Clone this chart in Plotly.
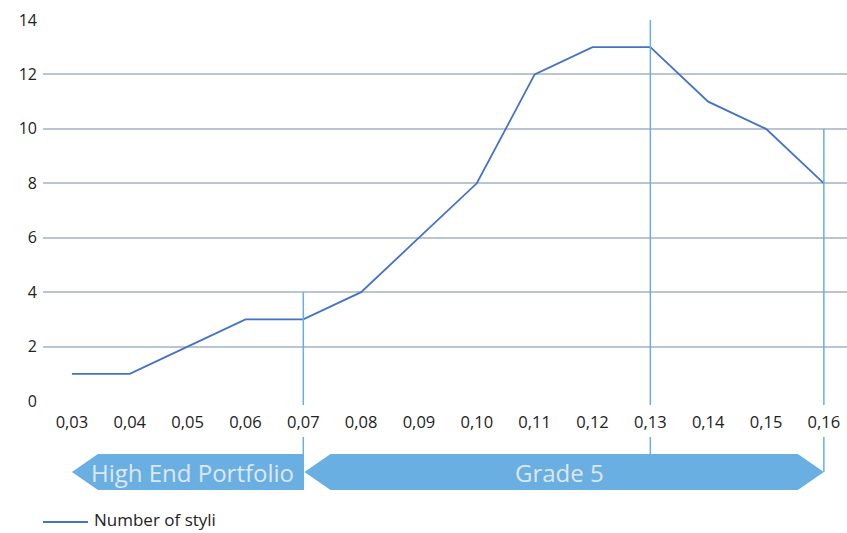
import plotly.graph_objects as go

# Contact radius (mm) and number of styli per radius
radius = [0.03, 0.04, 0.05, 0.06, 0.07, 0.08, 0.09, 0.10, 0.11, 0.12, 0.13, 0.14, 0.15, 0.16]
styli = [1, 1, 2, 3, 3, 4, 6, 8, 12, 13, 13, 11, 10, 8]
series_name = "Number of styli"

# Range markers: (radius, height of the marker line in data units)
markers_x = [0.07, 0.13, 0.16]
markers_top = [4, 14, 10]

# Product bands drawn as arrows under the axis
band_labels = ["High End Portfolio", "Grade 5"]
band_start = [0.03, 0.07]
band_end = [0.07, 0.16]

Y_MAX = 14
X_RANGE = [0.025, 0.164]
PLOT_TOP, PLOT_BOTTOM, W, H = 20, 401, 847, 533
PLOT_LEFT = 43
PLOT_H = PLOT_BOTTOM - PLOT_TOP


def paper_y(px):
    """Convert a pixel row into a paper fraction of the plot area."""
    return (PLOT_BOTTOM - px) / PLOT_H


def paper_x(px):
    return (px - PLOT_LEFT) / (W - PLOT_LEFT)


line_col = "#4472c4"
marker_col = "#6aaee2"
band_col = "#6aafe1"
band_text = "#dde7f2"

fig = go.Figure()
fig.add_trace(go.Scatter(
    x=radius, y=styli, mode="lines", name=series_name, showlegend=False,
    line=dict(color=line_col, width=1.8),
))

shapes = []
# marker lines, interrupted where the tick labels sit
for mx, top in zip(markers_x, markers_top):
    shapes.append(dict(type="line", xref="x", yref="paper", x0=mx, x1=mx,
                       y0=top / Y_MAX, y1=paper_y(405),
                       line=dict(color=marker_col, width=1.5)))
# lower parts of marker lines down to the bands
lower_ends = {0.07: 490, 0.13: 455, 0.16: 472}
for mx in markers_x:
    shapes.append(dict(type="line", xref="x", yref="paper", x0=mx, x1=mx,
                       y0=paper_y(437), y1=paper_y(lower_ends[mx]),
                       line=dict(color=marker_col, width=1.5)))

top_y, mid_y, bot_y = paper_y(454), paper_y(472), paper_y(490)
head = 0.0045  # arrow head length in radius units

# High End Portfolio: left-pointing arrow
s, e = band_start[0], band_end[0]
shapes.append(dict(
    type="path", xref="x", yref="paper", layer="below",
    path=f"M {s} {mid_y} L {s + head} {top_y} L {e} {top_y} L {e} {bot_y} L {s + head} {bot_y} Z",
    fillcolor=band_col, line=dict(width=0)))
# Grade 5: double-headed arrow
s, e = band_start[1] + 0.0002, band_end[1]
shapes.append(dict(
    type="path", xref="x", yref="paper", layer="below",
    path=(f"M {s} {mid_y} L {s + head} {top_y} L {e - head} {top_y} L {e} {mid_y} "
          f"L {e - head} {bot_y} L {s + head} {bot_y} Z"),
    fillcolor=band_col, line=dict(width=0)))

# legend entry: short line sample with the series name
legend_y = paper_y(522)
shapes.append(dict(type="line", xref="paper", yref="paper",
                   x0=paper_x(43), x1=paper_x(88), y0=legend_y, y1=legend_y,
                   line=dict(color=line_col, width=1.8)))

annotations = [
    dict(x=0.0508, y=mid_y, xref="x", yref="paper", text=band_labels[0],
         showarrow=False, xanchor="center", yanchor="middle",
         font=dict(size=24, color=band_text, family="Open Sans")),
    dict(x=0.1143, y=mid_y, xref="x", yref="paper",
         text=band_labels[1], showarrow=False, xanchor="center", yanchor="middle",
         font=dict(size=24, color=band_text, family="Open Sans")),
    dict(x=paper_x(92), y=paper_y(519), xref="paper", yref="paper", text=series_name,
         showarrow=False, xanchor="left", yanchor="middle",
         font=dict(size=17, color="#222222", family="Open Sans")),
]

fig.update_layout(
    width=W, height=H,
    margin=dict(l=PLOT_LEFT, r=0, t=PLOT_TOP, b=H - PLOT_BOTTOM, autoexpand=False),
    paper_bgcolor="white", plot_bgcolor="white",
    separators=",.",
    font=dict(family="Open Sans", size=16, color="#222222"),
    shapes=shapes, annotations=annotations,
    showlegend=False,
    xaxis=dict(range=X_RANGE, tickvals=radius, tickformat=".2f",
               showgrid=False, zeroline=False, showline=False, ticks="",
               tickfont=dict(size=16.5), ticklabelstandoff=9),
    yaxis=dict(range=[0, Y_MAX], dtick=2, showgrid=True, gridcolor="#b9c5d1",
               gridwidth=2, zeroline=False, showline=False, ticks="",
               tickfont=dict(size=16), ticklabelstandoff=5),
)

fig.write_html("out.html")
